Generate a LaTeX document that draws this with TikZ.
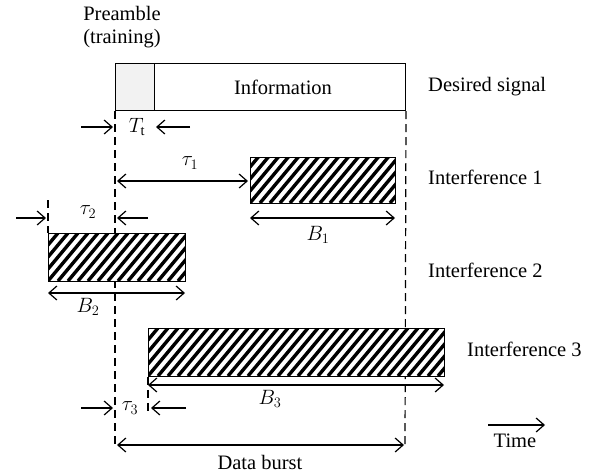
\documentclass[tikz,border=0pt]{standalone}
\usepackage{fontspec}
\setmainfont{Liberation Serif}
\usetikzlibrary{arrows.meta}
% hatched burst: name, x1, y1, x2, y2
\newcommand\hatchburst[5]{%
  \pgfmathsetmacro\hbstart{#2-60}%
  \pgfmathsetmacro\hbnext{#2-50}%
  \pgfmathsetmacro\hbrise{(#5-#3)/1.2}%
  \begin{scope}
    \clip (#2,#3) rectangle (#4,#5);
    \fill[white] (#2,#3) rectangle (#4,#5);
    \foreach \hx in {\hbstart,\hbnext,...,#4}
      \draw[line width=3.4pt] (\hx,#5) -- ++(\hbrise,#3-#5);
  \end{scope}
  \node[draw, line width=0.8pt, anchor=north west, inner sep=0pt,
        minimum width=#4-#2, minimum height=#5-#3] (#1) at (#2,#3) {};%
}
\begin{document}
\begin{tikzpicture}[x=1pt,y=-1pt,
  lbl/.style={font=\fontsize{20.5}{23}\selectfont, inner sep=0pt},
  dim/.style={line width=1.2pt, -{Straight Barb[length=8pt,width=14pt]}},
  ddim/.style={line width=1.2pt, {Straight Barb[length=8pt,width=14pt]}-{Straight Barb[length=8pt,width=14pt]}},
  guide/.style={line width=1.2pt, dash pattern=on 8pt off 5pt},
  ]
\useasboundingbox (0,0) rectangle (601,474);

% guide positions
\coordinate (dbl) at (115,445);
\coordinate (dbr) at (405,445);
\coordinate (g2top) at (48,200);
\coordinate (g3bot) at (148,415);

% desired signal frame
\node[draw, line width=1pt, anchor=north west, inner sep=0pt,
      minimum width=290, minimum height=47] (sig) at (115,63) {};
\node[draw, line width=1pt, fill=gray!10, anchor=north west, inner sep=0pt,
      minimum width=39, minimum height=47] (pre) at (115,63) {};

% vertical guides
\draw[guide] (sig.south west) -- (dbl);
\draw[guide] (sig.south east) -- (dbr);

% interfering bursts
\hatchburst{i1}{250}{157}{395}{203}
\hatchburst{i2}{48}{233}{185}{281}
\hatchburst{i3}{148}{328}{444}{376}

\draw[guide] (g2top) -- (i2.north west);
\draw[guide] (i3.south west) -- (g3bot);

% labels
\node[lbl, align=center] (pretxt) at (122,27) {Preamble\\(training)};
\node[lbl] (info) at (283,87) {Information};
\node[lbl, anchor=west] (ds) at (428,87) {Desired signal};
\node[lbl, anchor=west] (l1) at (428,177) {Interference 1};
\node[lbl, anchor=west] (l2) at (428,270) {Interference 2};
\node[lbl, anchor=west] (l3) at (467,349) {Interference 3};
\node[lbl] (tt) at (137,127) {$T_{\mathrm{t}}$};
\node[lbl] (t1) at (190,163) {$\tau_1$};
\node[lbl] (b1) at (318,235) {$B_1$};
\node[lbl] (t2) at (88,212) {$\tau_2$};
\node[lbl] (b2) at (88,307) {$B_2$};
\node[lbl] (b3) at (270,399) {$B_3$};
\node[lbl] (t3) at (130,408) {$\tau_3$};
\node[lbl] (db) at (260,462) {Data burst};
\node[lbl] (time) at (515,441) {Time};

% arrow end points
\coordinate (tta) at (81,127);  \coordinate (ttb) at (113,127);
\coordinate (ttc) at (190,127); \coordinate (ttd) at (156,127);
\coordinate (t1a) at (117,181); \coordinate (t1b) at (248,181);
\coordinate (b1a) at (250,218); \coordinate (b1b) at (395,218);
\coordinate (t2a) at (16,218);  \coordinate (t2b) at (46,218);
\coordinate (t2c) at (148,218); \coordinate (t2d) at (117,218);
\coordinate (b2a) at (48,293);  \coordinate (b2b) at (185,293);
\coordinate (b3a) at (148,385); \coordinate (b3b) at (444,385);
\coordinate (t3a) at (81,408);  \coordinate (t3b) at (113,408);
\coordinate (t3c) at (186,408); \coordinate (t3d) at (151,408);
\coordinate (tma) at (488,425); \coordinate (tmb) at (545,425);
\coordinate (dba) at (117,445); \coordinate (dbb) at (404,445);

% dimension arrows
\draw[dim] (tta) -- (ttb);
\draw[dim] (ttc) -- (ttd);
\draw[ddim] (t1a) -- (t1b);
\draw[ddim] (b1a) -- (b1b);
\draw[dim] (t2a) -- (t2b);
\draw[dim] (t2c) -- (t2d);
\draw[ddim] (b2a) -- (b2b);
\draw[ddim] (b3a) -- (b3b);
\draw[dim] (t3a) -- (t3b);
\draw[dim] (t3c) -- (t3d);
\draw[dim] (tma) -- (tmb);
\draw[ddim] (dba) -- (dbb);
\end{tikzpicture}
\end{document}
